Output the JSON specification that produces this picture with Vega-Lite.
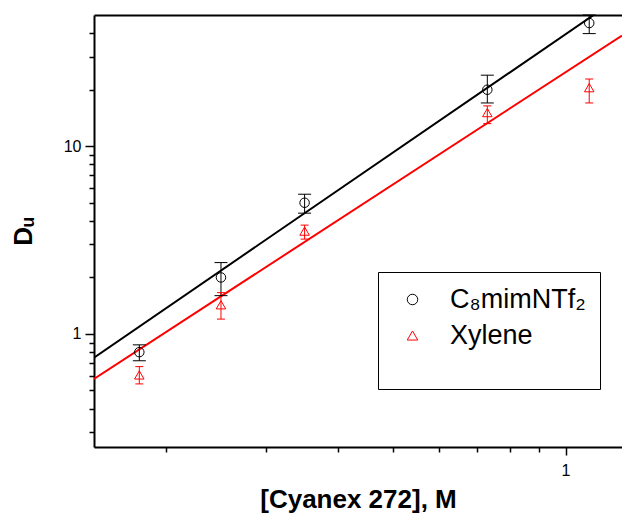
{
  "$schema": "https://vega.github.io/schema/vega-lite/v6.json",
  "autosize": {"type": "none"},
  "padding": {"left": 94, "top": 15, "right": 0, "bottom": 71},
  "width": 528,
  "height": 432,
  "background": "white",
  "config": {"view": {"stroke": null}, "font": "Liberation Sans"},
  "datasets": {
    "pts": [
      {"series": "C₈mimNTf₂", "x": 0.18, "y": 0.8, "lo": 0.72, "hi": 0.875},
      {"series": "C₈mimNTf₂", "x": 0.25, "y": 2.0, "lo": 1.6, "hi": 2.4},
      {"series": "C₈mimNTf₂", "x": 0.35, "y": 5.0, "lo": 4.4, "hi": 5.55},
      {"series": "C₈mimNTf₂", "x": 0.73, "y": 20.0, "lo": 17.0, "hi": 23.9},
      {"series": "C₈mimNTf₂", "x": 1.1, "y": 45.3, "lo": 39.8, "hi": 50},
      {"series": "Xylene", "x": 0.18, "y": 0.605, "lo": 0.542, "hi": 0.67},
      {"series": "Xylene", "x": 0.25, "y": 1.43, "lo": 1.2, "hi": 1.66},
      {"series": "Xylene", "x": 0.35, "y": 3.53, "lo": 3.2, "hi": 3.8},
      {"series": "Xylene", "x": 0.73, "y": 15.1, "lo": 13.2, "hi": 16.4},
      {"series": "Xylene", "x": 1.1, "y": 20.5, "lo": 17.0, "hi": 22.8}
    ],
    "fit": [
      {"series": "C₈mimNTf₂", "x": 0.15, "y": 0.748},
      {"series": "C₈mimNTf₂", "x": 1.255, "y": 63.5},
      {"series": "Xylene", "x": 0.15, "y": 0.576},
      {"series": "Xylene", "x": 1.255, "y": 38.9}
    ]
  },
  "resolve": {"axis": {"x": "independent"}},
  "layer": [
    {
      "data": {"name": "fit"},
      "mark": {"type": "line", "clip": true, "strokeWidth": 2},
      "encoding": {
        "x": {"field": "x", "type": "quantitative", "scale": {"type": "log", "domain": [0.15, 1.255], "nice": false},
          "axis": {"orient": "top", "ticks": false, "labels": false, "title": null, "grid": false, "domainColor": "black", "domainWidth": 2}},
        "y": {"field": "y", "type": "quantitative", "scale": {"type": "log", "domain": [0.25, 50], "nice": false}},
        "stroke": {"condition": {"test": "datum.series === 'Xylene'", "value": "#ff0000"}, "value": "black"},
        "detail": {"field": "series"}
      }
    },
    {
      "data": {"name": "pts"},
      "mark": {"type": "rule", "strokeWidth": 1},
      "encoding": {
        "x": {"field": "x", "type": "quantitative", "scale": {"type": "log", "domain": [0.15, 1.255], "nice": false}, "axis": null},
        "y": {"field": "lo", "type": "quantitative", "scale": {"type": "log", "domain": [0.25, 50], "nice": false}},
        "y2": {"field": "hi"},
        "stroke": {"condition": {"test": "datum.series === 'Xylene'", "value": "#ff0000"}, "value": "black"}
      }
    },
    {
      "data": {"name": "pts"},
      "mark": {"type": "point", "shape": "M-1,0L1,0", "filled": false, "strokeWidth": 1, "opacity": 1},
      "encoding": {
        "x": {"field": "x", "type": "quantitative", "scale": {"type": "log", "domain": [0.15, 1.255], "nice": false}, "axis": null},
        "y": {"field": "hi", "type": "quantitative", "scale": {"type": "log", "domain": [0.25, 50], "nice": false}},
        "stroke": {"condition": {"test": "datum.series === 'Xylene'", "value": "#ff0000"}, "value": "black"},
        "size": {"condition": {"test": "datum.series === 'Xylene'", "value": 64}, "value": 169}
      }
    },
    {
      "data": {"name": "pts"},
      "mark": {"type": "point", "shape": "M-1,0L1,0", "filled": false, "strokeWidth": 1, "opacity": 1},
      "encoding": {
        "x": {"field": "x", "type": "quantitative", "scale": {"type": "log", "domain": [0.15, 1.255], "nice": false}, "axis": null},
        "y": {"field": "lo", "type": "quantitative", "scale": {"type": "log", "domain": [0.25, 50], "nice": false}},
        "stroke": {"condition": {"test": "datum.series === 'Xylene'", "value": "#ff0000"}, "value": "black"},
        "size": {"condition": {"test": "datum.series === 'Xylene'", "value": 64}, "value": 169}
      }
    },
    {
      "data": {"name": "pts"},
      "mark": {"type": "point", "filled": false, "strokeWidth": 1, "size": 90, "opacity": 1},
      "encoding": {
        "x": {"field": "x", "type": "quantitative", "scale": {"type": "log", "domain": [0.15, 1.255], "nice": false},
          "axis": {
            "orient": "bottom",
            "values": [0.2, 0.3, 0.4, 0.5, 0.6, 0.7, 0.8, 0.9, 1],
            "labelExpr": "datum.value == 1 ? '1' : ''",
            "tickSize": {"condition": {"test": "datum.value == 1", "value": 8}, "value": 5},
            "tickWidth": 1.5, "tickColor": "black",
            "domainColor": "black", "domainWidth": 2,
            "grid": false, "labelOverlap": false,
            "labelFontSize": 16, "labelColor": "black", "labelPadding": 7,
            "title": "[Cyanex 272], M", "titleFontSize": 26, "titleFontWeight": "bold", "titleColor": "black", "titlePadding": 8
          }},
        "y": {"field": "y", "type": "quantitative", "scale": {"type": "log", "domain": [0.25, 50], "nice": false},
          "axis": {
            "values": [0.3, 0.4, 0.5, 0.6, 0.7, 0.8, 0.9, 1, 2, 3, 4, 5, 6, 7, 8, 9, 10, 20, 30, 40],
            "labelExpr": "datum.value == 1 ? '1' : datum.value == 10 ? '10' : ''",
            "tickSize": {"condition": {"test": "datum.value == 1 || datum.value == 10", "value": 9}, "value": 5},
            "tickWidth": 1.5, "tickColor": "black",
            "domainColor": "black", "domainWidth": 2,
            "grid": false, "labelOverlap": false,
            "labelFontSize": 16, "labelColor": "black", "labelPadding": 4,
            "title": "Dᵤ", "titleFontSize": 26, "titleFontWeight": "bold", "titleColor": "black", "titlePadding": 27
          }},
        "color": {"field": "series", "type": "nominal", "scale": {"domain": ["C₈mimNTf₂", "Xylene"], "range": ["black", "#ff0000"]},
          "legend": {"orient": "none", "legendX": 284, "legendY": 257, "strokeColor": "black", "fillColor": "white", "padding": 14,
            "symbolOffset": 7, "labelOffset": 24, "rowPadding": 8, "labelFontSize": 27, "labelColor": "black", "symbolSize": 110,
            "symbolStrokeWidth": 1, "title": " ", "titleOrient": "bottom", "titleFontSize": 10, "titlePadding": 16}},
        "shape": {"field": "series", "type": "nominal", "scale": {"domain": ["C₈mimNTf₂", "Xylene"], "range": ["circle", "triangle-up"]},
          "legend": {"orient": "none", "legendX": 284, "legendY": 257, "strokeColor": "black", "fillColor": "white", "padding": 14,
            "symbolOffset": 7, "labelOffset": 24, "rowPadding": 8, "labelFontSize": 27, "labelColor": "black", "symbolSize": 110,
            "symbolStrokeWidth": 1, "title": " ", "titleOrient": "bottom", "titleFontSize": 10, "titlePadding": 16}}
      }
    }
  ]
}
